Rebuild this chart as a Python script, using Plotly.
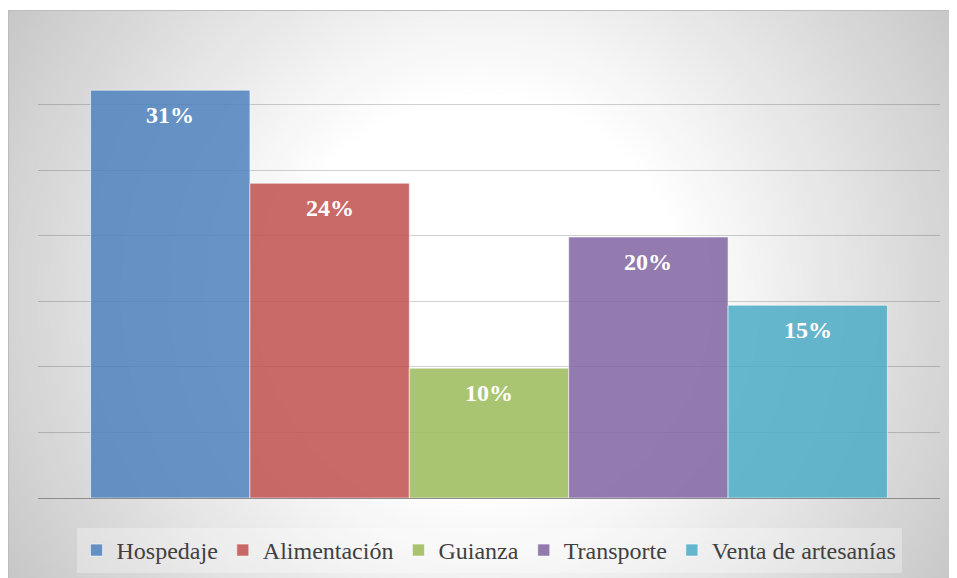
import plotly.graph_objects as go

# Data (percent of spending)
categorias = ['Hospedaje', 'Alimentación', 'Guianza', 'Transporte', 'Venta de artesanías']
porcentajes = [31.1, 24.0, 9.9, 19.9, 14.7]
colores = ['rgba(79,129,189,0.85)', 'rgba(192,80,77,0.85)', 'rgba(155,187,89,0.85)',
           'rgba(128,100,162,0.85)', 'rgba(75,172,198,0.85)']

SERIF = 'Liberation Serif, Times New Roman, serif'

# page offset: the browser body adds an 8px margin
OFF = 8
W, H = 957, 578
L, R, T, B = 38 - OFF, 25, 39 - OFF, 88
pw, ph = W - L - R, H - T - B


def px_x(x):
    # page pixel -> paper coord
    return (x - OFF - L) / pw


def px_y(y):
    return (H - B - (y - OFF)) / ph


fig = go.Figure()
for cat, val, col in zip(categorias, porcentajes, colores):
    fig.add_trace(go.Bar(
        x=[cat], y=[val], name=cat, width=1,
        marker=dict(color=col, line=dict(color='rgba(255,255,255,0.55)', width=1)),
        hoverinfo='skip',
    ))

# value labels inside the top of each bar
for cat, val in zip(categorias, porcentajes):
    fig.add_annotation(x=cat, y=val, text=f'{val:.0f}%', showarrow=False,
                       yanchor='middle', yshift=-25,
                       font=dict(family=SERIF, size=24, color='white', weight='bold'))

# radial grey-to-white background behind the chart area
shapes = []
cx, cy = 483, 294
r = 560
while r > 195:
    g = int(round(255 - 0.157 * max(0, r - 200)))
    shapes.append(dict(type='circle', xref='paper', yref='paper', layer='below',
                       x0=px_x(cx - r), x1=px_x(cx + r), y0=px_y(cy + r), y1=px_y(cy - r),
                       fillcolor=f'rgb({g},{g},{g})', line=dict(width=0)))
    r -= 6
# white strip above the chart frame
shapes.append(dict(type='rect', xref='paper', yref='paper', layer='below',
                   x0=px_x(-700), x1=px_x(W + 700), y0=px_y(10), y1=px_y(-700),
                   fillcolor='white', line=dict(width=0)))
# frame: top and left edges only
shapes.append(dict(type='line', xref='paper', yref='paper', layer='below',
                   x0=px_x(8.5), x1=px_x(W + 40), y0=px_y(10.5), y1=px_y(10.5),
                   line=dict(color='#bdbdbd', width=1.2)))
shapes.append(dict(type='line', xref='paper', yref='paper', layer='below',
                   x0=px_x(8.5), x1=px_x(8.5), y0=px_y(10.5), y1=px_y(H + 40),
                   line=dict(color='#bdbdbd', width=1.2)))

fig.update_layout(
    width=W, height=H,
    margin=dict(l=L, r=R, t=T, b=B),
    paper_bgcolor='white',
    plot_bgcolor='rgba(0,0,0,0)',
    barmode='overlay',
    shapes=shapes,
    font=dict(family=SERIF, color='#404040'),
    legend=dict(orientation='h', x=0.5, xanchor='center', y=px_y(528), yanchor='top',
                bgcolor='rgba(255,255,255,0.3)',
                font=dict(family=SERIF, size=24, color='#404040'),
                itemclick=False),
    xaxis=dict(range=[-0.83, 4.83], showticklabels=False, showgrid=False,
               showline=True, linecolor='#8c8c8c', linewidth=1, ticks=''),
    yaxis=dict(range=[0, 35], dtick=5, showticklabels=False, zeroline=False,
               showgrid=True, gridcolor='rgba(0,0,0,0.18)', gridwidth=1, ticks=''),
)

fig.write_html('out.html')
